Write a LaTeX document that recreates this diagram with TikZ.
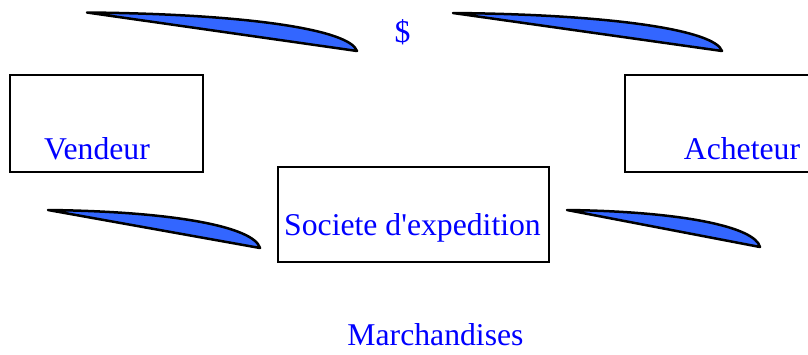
\documentclass[tikz,border=0pt]{standalone}
\usepackage{fontspec}
\setmainfont{Liberation Serif}
\definecolor{leafblue}{HTML}{3366FF}
\definecolor{txtblue}{RGB}{0,0,255}
\tikzset{
  boxnode/.style={draw=black, line width=2.5pt, rectangle, inner sep=0pt, fill=white},
  lbl/.style={text=txtblue, font=\fontsize{31.7}{38}\selectfont, inner sep=0pt, anchor=base},
  leaf/.style={draw=black, line width=2.5pt, fill=leafblue, line join=round, line cap=round}
}
\begin{document}
\begin{tikzpicture}[x=1pt,y=-1pt]
\clip (0,0) rectangle (808,354);
\fill[white] (0,0) rectangle (808,354);
% boxes
\node[boxnode, minimum width=193pt, minimum height=97pt] (vbox) at (106.5,123.5) {};
\node[boxnode, minimum width=200pt, minimum height=97pt] (abox) at (725,123.5) {};
\node[boxnode, minimum width=271pt, minimum height=95pt] (sbox) at (413.5,214.5) {};
% labels
\node[lbl] (vendeur) at (97,159) {Vendeur};
\node[lbl] (acheteur) at (742,159) {Acheteur};
\node[lbl] (societe) at (412.5,235) {Societe d\textquotesingle expedition};
\node[lbl] (march) at (435.5,345) {Marchandises};
\node[lbl] (dollar) at (402.5,42) {\$};
% leaf shapes
\draw[leaf] (87,12.5) .. controls (250,14) and (350,30) .. (357,51) -- cycle;
\draw[leaf] (453,13) .. controls (615,14.5) and (715,30.5) .. (722,51) -- cycle;
\draw[leaf] (48,210) .. controls (175,211.5) and (254,227) .. (260,248) -- cycle;
\draw[leaf] (567,210) .. controls (683,211.5) and (755,227) .. (760,247) -- cycle;
\end{tikzpicture}
\end{document}
